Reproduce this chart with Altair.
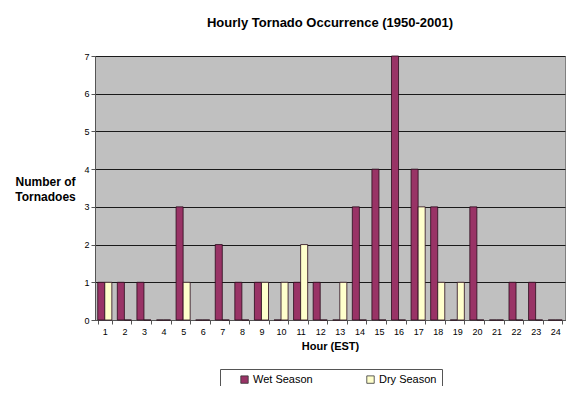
import altair as alt
import pandas as pd

hours = list(range(1, 25))
wet = [1, 1, 1, 0, 3, 0, 2, 1, 1, 0, 1, 1, 0, 3, 4, 7, 4, 3, 0, 3, 0, 1, 1, 0]
dry = [1, 0, 0, 0, 1, 0, 0, 0, 1, 1, 2, 0, 1, 0, 0, 0, 3, 1, 1, 0, 0, 0, 0, 0]
series = ["Wet Season", "Dry Season"]
colors = ["#993366", "#FFFFCC"]

rows = []
for h, w, d in zip(hours, wet, dry):
    rows.append({"hour": h, "season": series[0], "count": w})
    rows.append({"hour": h, "season": series[1], "count": d})
df = pd.DataFrame(rows)

font = "Liberation Sans"

chart = alt.Chart(df).mark_bar(stroke="#2a0a1a", strokeWidth=0.8).encode(
    x=alt.X("hour:O", title="Hour (EST)",
            scale=alt.Scale(paddingInner=0.28, paddingOuter=0.14),
            axis=alt.Axis(labelAngle=0, labelFontSize=9, labelColor="#000",
                          labelFont=font, titleFont=font, titleFontSize=11,
                          titleFontWeight="bold", titlePadding=4,
                          tickBand="extent", tickColor="#555", domainColor="#555",
                          tickSize=4, labelPadding=3)),
    xOffset=alt.XOffset("season:N", sort=series),
    y=alt.Y("count:Q", title=["Number of", "Tornadoes"],
            scale=alt.Scale(domain=[0, 7]),
            axis=alt.Axis(values=list(range(8)), format="d", labelFontSize=9,
                          labelFont=font, labelColor="#000",
                          grid=True, gridColor="#1a1a1a", gridWidth=1,
                          tickColor="#555", domainColor="#555", tickSize=4,
                          titleAngle=0, titleFont=font, titleFontSize=12,
                          titleFontWeight="bold", titleAlign="center",
                          titleBaseline="middle", titleX=-50, titleY=125,
                          titleLineHeight=15)),
    color=alt.Color("season:N", sort=series,
                    scale=alt.Scale(domain=series, range=colors),
                    legend=alt.Legend(title=None, orient="none", legendX=125,
                                      legendY=313, direction="horizontal",
                                      columns=2, symbolType="square",
                                      symbolSize=55, symbolStrokeColor="#333",
                                      symbolStrokeWidth=0.8,
                                      labelFont=font, labelFontSize=11,
                                      labelColor="#000", labelOffset=3,
                                      columnPadding=38, padding=5,
                                      symbolOffset=14,
                                      strokeColor="#555", fillColor="#fff")),
).properties(
    width=470, height=264,
    title=alt.TitleParams("Hourly Tornado Occurrence (1950-2001)", font=font,
                          fontSize=13, fontWeight="bold", anchor="middle",
                          offset=22, color="#000"),
    autosize=alt.AutoSizeParams(type="none"),
    padding={"left": 87, "top": 48, "right": 3, "bottom": 66},
    background="#ffffff",
).configure_view(fill="#C0C0C0", stroke="#808080")

chart.save("out.html", embed_options={"renderer": "svg", "actions": False})
